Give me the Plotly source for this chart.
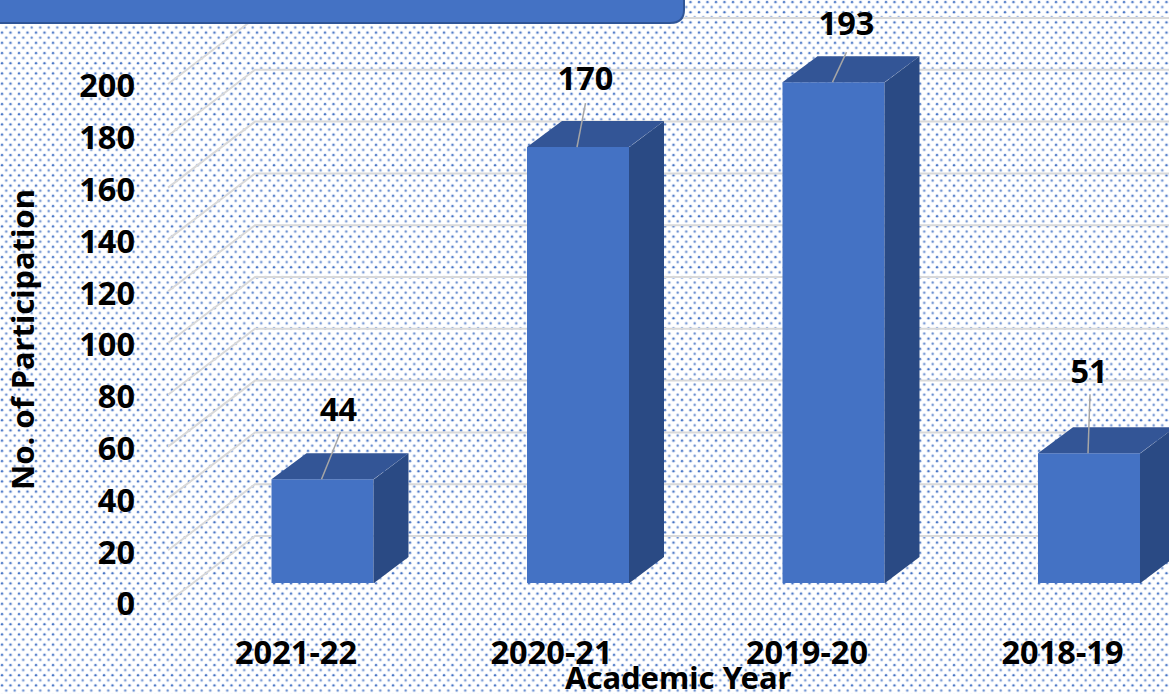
import base64
import plotly.graph_objects as go

categories = ["2021-22", "2020-21", "2019-20", "2018-19"]
printed_labels = [44, 170, 193, 51]
drawn_heights = [40, 168, 193, 50]   # bar heights as read against the axis
y_ticks = list(range(0, 201, 20))

W, H = 1169, 694
FONT = "Noto Sans"
BLUE, TOP, SIDE = "#4472C4", "#335596", "#2A4A84"
GRID = "#D9D9D9"

# pixel calibration of the two sets of axes
X0_LABEL, X0_BAR, DX = 296.0, 322.5, 255.5
Y0_LABEL, SY_LABEL = 604.0, 2.59
Y0_BAR, SY_BAR = 583.0, 2.595
BAR_W = 102 / DX
DEPTH_X, DEPTH_Y = 35 / DX, 26 / SY_BAR
LABEL_DX = [16, 7.5, 13, 0]
LABEL_DY = [-66, -65, -55, -78]
LEADER_DX = [18, 7.5, 13, 1]
LEADER_DY = [-47, -44, -30, -59]

tile = (
    f'<svg xmlns="http://www.w3.org/2000/svg" width="{W}" height="{H}">'
    '<defs><pattern id="p" width="8.5" height="10.2" patternUnits="userSpaceOnUse">'
    f'<circle cx="2" cy="2" r="1.8" fill="{BLUE}" fill-opacity="0.16"/>'
    f'<circle cx="2" cy="2" r="1.1" fill="{BLUE}"/>'
    f'<circle cx="6.25" cy="7.1" r="1.8" fill="{BLUE}" fill-opacity="0.16"/>'
    f'<circle cx="6.25" cy="7.1" r="1.05" fill="{BLUE}" fill-opacity="0.85"/>'
    '</pattern></defs>'
    f'<rect width="{W}" height="{H}" fill="white"/><rect width="{W}" height="{H}" fill="url(#p)"/></svg>'
)
bg_uri = "data:image/svg+xml;base64," + base64.b64encode(tile.encode()).decode()

fig = go.Figure()

# receding gridlines on the label axes
gx, gy = [], []
for v in y_ticks:
    gx += [(168 - X0_LABEL) / DX, (255 - X0_LABEL) / DX, (W - X0_LABEL) / DX, None]
    gy += [v + (Y0_LABEL - 602) / SY_LABEL, v + (Y0_LABEL - 536) / SY_LABEL,
           v + (Y0_LABEL - 536) / SY_LABEL, None]
fig.add_trace(go.Scatter(x=gx, y=gy, mode="lines", line=dict(color=GRID, width=2),
                         hoverinfo="skip", xaxis="x", yaxis="y"))

xs = list(range(len(categories)))
fig.add_trace(go.Bar(x=xs, y=drawn_heights, width=BAR_W, marker=dict(color=BLUE, line=dict(width=0)),
                     xaxis="x2", yaxis="y2", hoverinfo="skip"))

SEAM = 1 / DX  # faces tuck under each other so no light seam shows at the shared edge
for x, h in zip(xs, drawn_heights):
    l, r = x - BAR_W / 2, x + BAR_W / 2
    fig.add_trace(go.Scatter(
        x=[l, l + DEPTH_X, r + DEPTH_X, r, l], y=[h, h + DEPTH_Y, h + DEPTH_Y, h, h],
        fill="toself", fillcolor=TOP, mode="lines", line=dict(width=0),
        xaxis="x2", yaxis="y2", hoverinfo="skip"))
    fig.add_trace(go.Scatter(
        x=[r + SEAM / 2, r + DEPTH_X, r + DEPTH_X, r + SEAM / 2, r + SEAM / 2],
        y=[h, h + DEPTH_Y, DEPTH_Y, 0, h],
        fill="toself", fillcolor=SIDE, mode="lines", line=dict(width=0),
        xaxis="x2", yaxis="y2", hoverinfo="skip"))
    # close the seam between front and side
    fig.add_trace(go.Scatter(x=[r + SEAM / 2, r + SEAM / 2], y=[0, h], mode="lines",
                             line=dict(color=SIDE, width=1), xaxis="x2", yaxis="y2", hoverinfo="skip"))

for x, h, dx, dy in zip(xs, drawn_heights, LEADER_DX, LEADER_DY):
    fig.add_trace(go.Scatter(
        x=[x - 1 / DX, x + dx / DX], y=[h, h - dy / SY_BAR], mode="lines",
        line=dict(color="#A6A6A6", width=1.5), xaxis="x2", yaxis="y2", hoverinfo="skip"))

tickfont = dict(family=FONT, size=32.5, color="black", weight="bold")
fig.add_trace(go.Scatter(
    x=[x + d / DX for x, d in zip(xs, LABEL_DX)],
    y=[h - d / SY_BAR for h, d in zip(drawn_heights, LABEL_DY)],
    text=[str(v) for v in printed_labels], mode="text", textposition="middle center",
    textfont=tickfont, xaxis="x2", yaxis="y2", hoverinfo="skip"))

fig.update_layout(
    width=W, height=H, autosize=False, margin=dict(l=0, r=0, t=0, b=0), showlegend=False,
    paper_bgcolor="white", plot_bgcolor="rgba(0,0,0,0)", barmode="overlay",
    xaxis=dict(range=[-X0_LABEL / DX, (W - X0_LABEL) / DX], domain=[0, 1], tickmode="array",
               tickvals=xs, ticktext=categories, tickfont=tickfont, showgrid=False, zeroline=False,
               showline=False, ticks="", anchor="free", position=(H - 630) / H,
               automargin=False),
    yaxis=dict(range=[(Y0_LABEL - H) / SY_LABEL, Y0_LABEL / SY_LABEL], domain=[0, 1], tickmode="array",
               tickvals=y_ticks, tickfont=tickfont, showgrid=False, zeroline=False, showline=False,
               ticks="", anchor="free", position=135 / W, automargin=False),
    xaxis2=dict(range=[-X0_BAR / DX, (W - X0_BAR) / DX], domain=[0, 1], overlaying="x", visible=False,
                anchor="y2"),
    yaxis2=dict(range=[(Y0_BAR - H) / SY_BAR, Y0_BAR / SY_BAR], domain=[0, 1], overlaying="y",
                visible=False, anchor="x2"),
    images=[dict(source=bg_uri, xref="paper", yref="paper", x=0, y=1, sizex=1, sizey=1,
                 sizing="stretch", layer="below", xanchor="left", yanchor="top")],
    shapes=[dict(type="path", xref="paper", yref="paper", layer="above",
                 path=f"M -0.02 1.02 L {684/W} 1.02 L {684/W} {(H-10)/H} "
                      f"Q {684/W} {(H-23)/H} {670/W} {(H-23)/H} L -0.02 {(H-23)/H} Z",
                 fillcolor=BLUE, line=dict(color="#2F5597", width=2))],
    annotations=[
        dict(text="<b>No. of Participation</b>", xref="paper", yref="paper", x=22 / W, y=(H - 340) / H,
             textangle=-90, showarrow=False, font=dict(family=FONT, size=31, color="black"),
             xanchor="center", yanchor="middle"),
        dict(text="<b>Academic Year</b>", xref="paper", yref="paper", x=678 / W, y=(H - 677) / H,
             showarrow=False, font=dict(family=FONT, size=31, color="black"),
             xanchor="center", yanchor="middle"),
    ],
)

fig.write_html("out.html", config=dict(displayModeBar=False),
               post_script="document.body.style.margin='0';document.body.style.overflow='hidden';")
